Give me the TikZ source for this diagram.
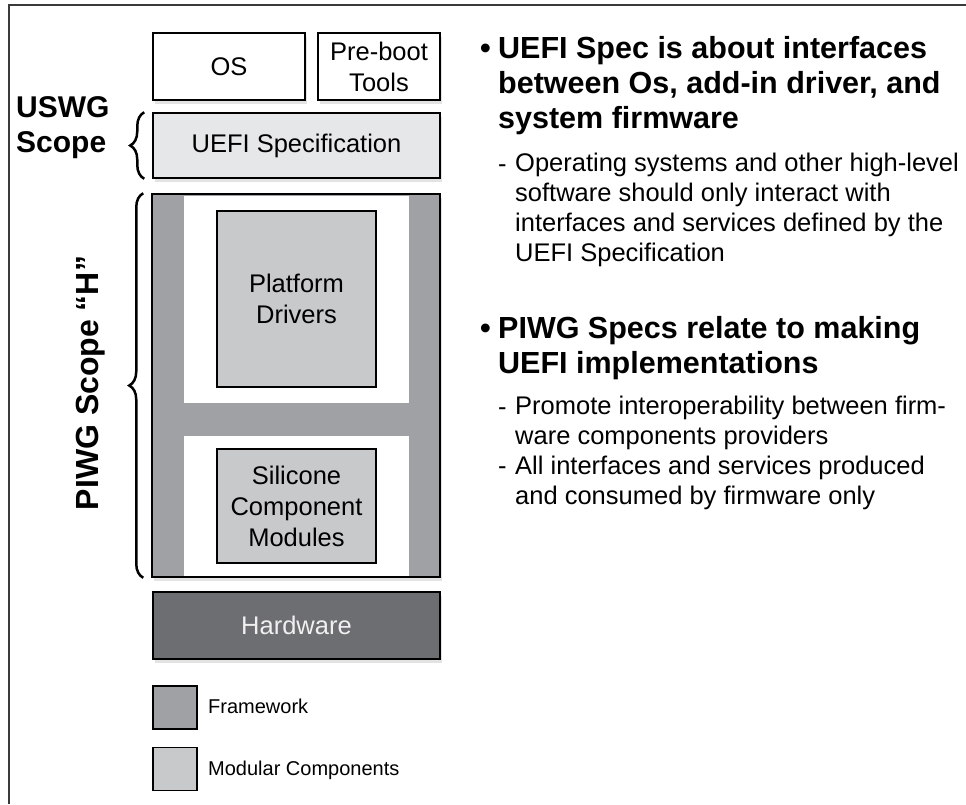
\documentclass[tikz,border=0pt]{standalone}
\usepackage{fontspec}
\setmainfont{Liberation Sans}
\usetikzlibrary{shadows,decorations.pathreplacing}

\definecolor{framegray}{HTML}{A0A1A4}
\definecolor{modgray}{HTML}{C8C9CB}
\definecolor{specgray}{HTML}{E6E7E8}
\definecolor{hwgray}{HTML}{6D6E71}
\definecolor{edgegray}{HTML}{3A3A3A}

\newcommand{\boxfont}{\fontsize{25.5}{31}\selectfont}
\newcommand{\headfont}{\fontsize{30.5}{35}\selectfont\bfseries}
\newcommand{\bodyfont}{\fontsize{25.5}{29.8}\selectfont}
\newcommand{\scopefont}{\fontsize{30}{35}\selectfont\bfseries}
\newcommand{\keyfont}{\fontsize{20}{24}\selectfont}

\begin{document}
\begin{tikzpicture}[x=1pt,y=-1pt,
  stackbox/.style={draw=black,line width=1.5pt,inner sep=0pt,align=center,font=\boxfont,
    drop shadow={shadow xshift=2pt,shadow yshift=-4pt,opacity=0.22}},
  modbox/.style={draw=black,line width=1.5pt,fill=modgray,inner sep=0pt,align=center,font=\boxfont},
  legendbox/.style={draw=black,line width=1.5pt,minimum width=44pt,minimum height=43pt,inner sep=0pt},
  scopebrace/.style={decorate,decoration={brace,amplitude=14pt},line width=2.5pt},
  headtext/.style={anchor=north west,inner sep=0pt,align=left,font=\headfont},
  bodytext/.style={anchor=north west,inner sep=0pt,align=left,font=\bodyfont},
  glyph/.style={anchor=base west,inner sep=0pt}]
\useasboundingbox (0,0) rectangle (966,804);

% outer frame
\draw[edgegray,line width=2pt] (9,804) -- (9,5) -- (966,5);

% top row
\node[stackbox,fill=white,minimum width=152pt,minimum height=67pt] (os) at (229,66.5) {OS};
\node[stackbox,fill=white,minimum width=122pt,minimum height=67pt] (preboot) at (379,66.5) {Pre-boot\\Tools};
\node[stackbox,fill=specgray,minimum width=287pt,minimum height=65pt] (uefi) at (296.5,145.5) {UEFI Specification};

% framework "H"
\node[stackbox,fill=framegray,minimum width=288pt,minimum height=383pt] (fw) at (296,385.5) {};
\fill[white] (184,195.5) rectangle (409,403);
\fill[white] (184,436) rectangle (409,575.5);
\node[modbox,minimum width=159pt,minimum height=176pt] (pd) at (296.5,299) {Platform\\Drivers};
\node[modbox,minimum width=159pt,minimum height=114pt] (scm) at (296.5,506) {Silicone\\Component\\Modules};

% hardware
\node[stackbox,fill=hwgray,text=white!94!black,minimum width=287pt,minimum height=67pt] (hw) at (296.5,625.5) {Hardware};

% legend
\node[legendbox,fill=framegray] (fwkey) at (175,707.5) {};
\node[legendbox,fill=modgray] (modkey) at (175,769) {};
\node[glyph,font=\keyfont] (fwlabel) at (208,713) {Framework};
\node[glyph,font=\keyfont] (modlabel) at (208,775) {Modular Components};

% scopes
\draw[scopebrace] ([xshift=-8pt]uefi.south west) -- ([xshift=-8pt]uefi.north west);
\draw[scopebrace] ([xshift=-8pt]fw.south west) -- ([xshift=-8pt]fw.north west);
\node[anchor=north west,inner sep=0pt,align=left,font=\scopefont] (uswg) at (16,96) {USWG\\Scope};
\node[rotate=90,inner sep=0pt,font=\fontsize{32}{36}\selectfont\bfseries] (piwgscope) at (91,383) {PIWG Scope “H”};

% notes
\node[glyph,font=\headfont] (specdot) at (480,58) {\textbullet};
\node[headtext] (spec) at (498,36) {UEFI Spec is about interfaces\\between Os, add-in driver, and\\system firmware};
\node[glyph,font=\bodyfont] (specdash) at (498,172) {-};
\node[bodytext] (specnote) at (515,153) {Operating systems and other high-level\\software should only interact with\\interfaces and services defined by the\\UEFI Specification};

\node[glyph,font=\headfont] (piwgdot) at (480,338) {\textbullet};
\node[headtext] (piwg) at (498,316) {PIWG Specs relate to making\\UEFI implementations};
\node[glyph,font=\bodyfont] (piwgdash) at (498,415) {-};
\node[bodytext] (piwgnote) at (515,396) {Promote interoperability between firm-\\ware components providers};
\node[glyph,font=\bodyfont] (piwgdash2) at (498,474.6) {-};
\node[bodytext] (piwgnote2) at (515,455.6) {All interfaces and services produced\\and consumed by firmware only};
\end{tikzpicture}
\end{document}
